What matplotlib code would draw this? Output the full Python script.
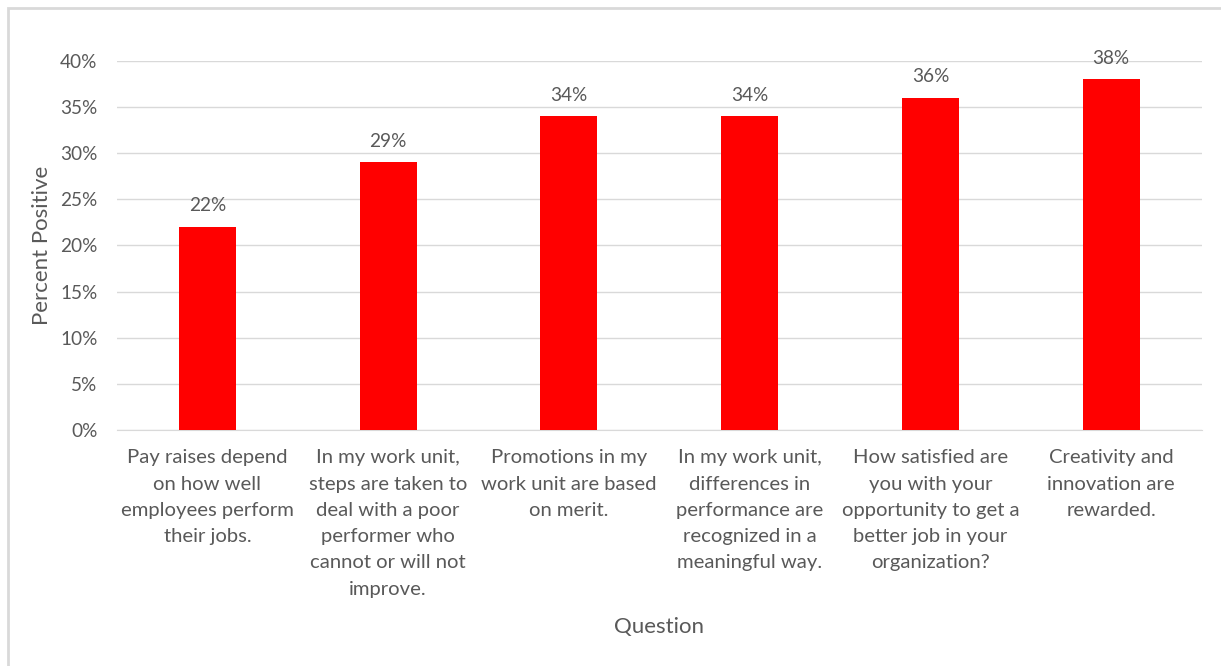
import matplotlib.pyplot as plt
from matplotlib.patches import Rectangle
from matplotlib.ticker import FuncFormatter, MultipleLocator

questions = [
    "Pay raises depend\non how well\nemployees perform\ntheir jobs.",
    "In my work unit,\nsteps are taken to\ndeal with a poor\nperformer who\ncannot or will not\nimprove.",
    "Promotions in my\nwork unit are based\non merit.",
    "In my work unit,\ndifferences in\nperformance are\nrecognized in a\nmeaningful way.",
    "How satisfied are\nyou with your\nopportunity to get a\nbetter job in your\norganization?",
    "Creativity and\ninnovation are\nrewarded.",
]
percent_positive = [22, 29, 34, 34, 36, 38]

plt.rcParams['font.family'] = ['Lato', 'DejaVu Sans']
gray = '#595959'

fig = plt.figure(figsize=(12.21, 6.66), dpi=100)
# light gray chart border (cut off at right and bottom like the screenshot)
fig.patches.append(Rectangle((8 / 1221, -0.05), 1.2, 1 - 8 / 666 + 0.05,
                             transform=fig.transFigure, fill=False,
                             edgecolor='#d9d9d9', linewidth=2))

ax = fig.add_axes([117 / 1221, (666 - 430) / 666, (1201.5 - 117) / 1221, (430 - 60.7) / 666])
x = range(len(questions))
bars = ax.bar(x, percent_positive, width=0.315, color='#ff0000', zorder=3)

for xi, v in zip(x, percent_positive):
    ax.annotate(f"{v}%", (xi, v), xytext=(0, 9), textcoords='offset points',
                ha='center', va='bottom', fontsize=13.7, color=gray)

ax.set_xlim(-0.5, len(questions) - 0.5)
ax.set_ylim(0, 40)
ax.yaxis.set_major_locator(MultipleLocator(5))
ax.yaxis.set_major_formatter(FuncFormatter(lambda v, p: f"{v:.0f}%"))
ax.grid(axis='y', color='#d9d9d9', linewidth=1, zorder=0)
for s in ['top', 'right', 'left']:
    ax.spines[s].set_visible(False)
ax.spines['bottom'].set_color('#d9d9d9')

ax.set_xticks(list(x))
ax.set_xticklabels(questions, fontsize=14.6, color=gray, linespacing=1.66, va='top')
ax.tick_params(axis='x', length=0, pad=14)
ax.tick_params(axis='y', length=0, pad=14, labelsize=13.7, labelcolor=gray)

ax.set_xlabel("Question", fontsize=16, color=gray, labelpad=14)
ax.set_ylabel("Percent Positive", fontsize=16, color=gray, labelpad=6)

fig.savefig("out.png", dpi=100)
